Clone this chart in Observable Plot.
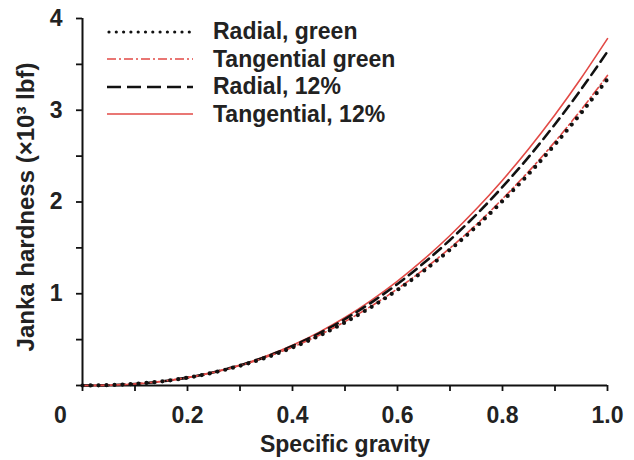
<!DOCTYPE html>
<html><head><meta charset="utf-8">
<script src="https://cdn.jsdelivr.net/npm/d3@7"></script>
<script src="https://cdn.jsdelivr.net/npm/@observablehq/plot@0.6"></script>
<style>
body{margin:0;background:#fff;}
#wrap{position:relative;width:634px;height:460px;font-family:"Liberation Sans",Arial,Helvetica,sans-serif;font-weight:bold;color:#222;}
#legend{position:absolute;left:107px;top:18px;}
.row{display:flex;align-items:center;height:27.5px;font-size:23px;line-height:27.5px;white-space:nowrap;}
.row svg{width:86px;height:10px;margin-right:20px;flex:none;}
</style></head><body><div id="wrap"><div id="legend"></div></div>
<script>
// Specific gravity sample points
const gravity = [0, 0.05, 0.1, 0.15, 0.2, 0.25, 0.3, 0.35, 0.4, 0.45, 0.5, 0.55, 0.6, 0.65, 0.7, 0.75, 0.8, 0.85, 0.9, 0.95, 1.0];
// Janka hardness (x10^3 lbf)
const radialGreen      = [0, 0.004, 0.018, 0.044, 0.085, 0.142, 0.215, 0.305, 0.414, 0.540, 0.688, 0.855, 1.042, 1.250, 1.480, 1.732, 2.010, 2.306, 2.627, 2.971, 3.34];
const tangentialGreen  = [0, 0.004, 0.018, 0.045, 0.086, 0.143, 0.217, 0.309, 0.418, 0.546, 0.696, 0.865, 1.054, 1.265, 1.498, 1.753, 2.034, 2.334, 2.658, 3.007, 3.38];
const radial12         = [0, 0.003, 0.017, 0.044, 0.086, 0.144, 0.220, 0.315, 0.430, 0.566, 0.724, 0.904, 1.107, 1.334, 1.586, 1.862, 2.164, 2.492, 2.848, 3.230, 3.64];
const tangential12     = [0, 0.003, 0.017, 0.044, 0.086, 0.146, 0.223, 0.321, 0.439, 0.579, 0.741, 0.928, 1.138, 1.374, 1.635, 1.923, 2.238, 2.580, 2.951, 3.351, 3.78];

const seriesNames = ["Radial, green", "Tangential green", "Radial, 12%", "Tangential, 12%"];
const xTicks = [0, 0.1, 0.2, 0.3, 0.4, 0.5, 0.6, 0.7, 0.8, 0.9, 1.0];
const xLabelValues = [0.2, 0.4, 0.6, 0.8, 1.0];
const xLabelTexts = ["0.2", "0.4", "0.6", "0.8", "1.0"];
const yTicks = [0, 0.5, 1, 1.5, 2, 2.5, 3, 3.5, 4];
const yLabelValues = [1, 2, 3, 4];
const yLabelTexts = ["1", "2", "3", "4"];
const originLabel = ["0"];
const xTitle = "Specific gravity";
const yTitle = "Janka hardness (×10³ lbf)";

const red = "#e24a46";
const ink = "#111";
const styles = [
  {stroke: ink, strokeWidth: 4.2, strokeDasharray: "0 8", strokeLinecap: "round"},
  {stroke: red, strokeWidth: 1.6, strokeDasharray: "9 3 2 3"},
  {stroke: ink, strokeWidth: 2.6, strokeDasharray: "10 6"},
  {stroke: red, strokeWidth: 1.6}
];
const seriesValues = [radialGreen, tangentialGreen, radial12, tangential12];
const table = seriesNames.map((name, s) => gravity.map((g, i) => ({g, h: seriesValues[s][i], series: name})));
const xLabels = xLabelValues.map((v, i) => ({v, t: xLabelTexts[i]}));
const yLabels = yLabelValues.map((v, i) => ({v, t: yLabelTexts[i]}));

const drawOrder = [3, 2, 1, 0];
const chart = Plot.plot({
  width: 634, height: 460,
  marginLeft: 82, marginRight: 27, marginTop: 18, marginBottom: 75,
  style: {fontFamily: '"Liberation Sans", Arial, Helvetica, sans-serif', fontWeight: "bold", color: "#222", background: "#fff"},
  x: {domain: [0, 1]},
  y: {domain: [0, 4]},
  marks: [
    Plot.axisX({ticks: xTicks, tickSize: 6, tickFormat: () => "", label: null, strokeWidth: 1.8, stroke: ink}),
    Plot.axisY({ticks: yTicks, tickSize: 6, tickFormat: () => "", label: null, strokeWidth: 1.8, stroke: ink}),
    Plot.ruleY([0], {stroke: ink, strokeWidth: 2}),
    Plot.ruleX([0], {stroke: ink, strokeWidth: 2}),
    ...drawOrder.map(s => Plot.line(table[s], {x: "g", y: "h", curve: "natural", ...styles[s]})),
    Plot.text(xLabels, {x: "v", y: () => 0, text: "t", dy: 30, lineAnchor: "middle", fontSize: 23, fill: "#222"}),
    Plot.text(yLabels, {x: () => 0, y: "v", text: "t", dx: -20, textAnchor: "end", lineAnchor: "middle", fontSize: 23, fill: "#222"}),
    Plot.text(originLabel, {x: d => +d, y: d => +d, text: d => d, dx: -22, dy: 30, lineAnchor: "middle", fontSize: 23, fill: "#222"}),
    Plot.text([xTitle], {frameAnchor: "bottom", dy: 59, lineAnchor: "middle", textAnchor: "middle", text: d => d, fontSize: 23, fill: "#222"}),
    Plot.text([yTitle], {frameAnchor: "left", rotate: -90, dx: -56, dy: 5, lineAnchor: "middle", textAnchor: "middle", text: d => d, fontSize: 24, fill: "#222"})
  ]
});
const wrap = document.getElementById("wrap");
wrap.insertBefore(chart, wrap.firstChild);

const legend = document.getElementById("legend");
seriesNames.forEach((name, s) => {
  const st = styles[s];
  const legendDash = s === 0 ? "0 7.3" : s === 2 ? "14 6" : (st.strokeDasharray || "");
  const w = s === 0 ? 3.2 : st.strokeWidth;
  const row = document.createElement("div");
  row.className = "row";
  row.innerHTML = `<svg viewBox="0 0 86 10"><line x1="${s===0?2:0}" x2="86" y1="5" y2="5" stroke="${st.stroke}" stroke-width="${w}" stroke-dasharray="${legendDash}" stroke-linecap="${st.strokeLinecap || "butt"}"/></svg><span>${name}</span>`;
  legend.appendChild(row);
});
</script></body></html>
